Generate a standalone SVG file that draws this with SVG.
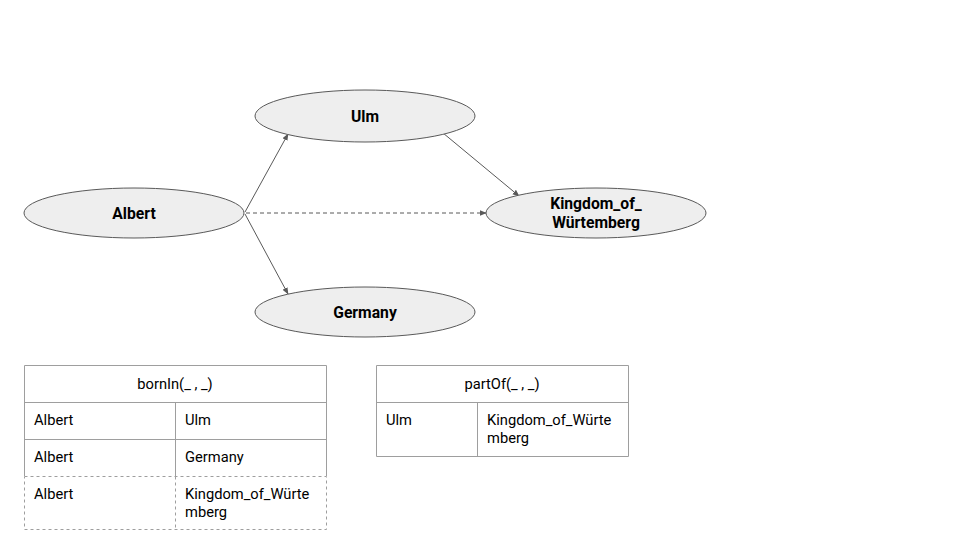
<svg xmlns="http://www.w3.org/2000/svg" width="960" height="540" viewBox="0 0 960 540">
<style>
.node ellipse{fill:#eeeeee;stroke:#595959;stroke-width:1}
.node text{font-family:Roboto,"Liberation Sans",sans-serif;font-weight:bold;font-size:15.7px;fill:#000;text-anchor:middle}
.edge{stroke:#595959;stroke-width:1;fill:none}
.dash{stroke-dasharray:4,3}
.tb{stroke:#9e9e9e;stroke-width:1;fill:none}
.tbd{stroke:#9e9e9e;stroke-width:1;fill:none;stroke-dasharray:3,3}
.tt{font-family:Roboto,"Liberation Sans",sans-serif;font-size:14.7px;fill:#000}
</style>
<defs>
<marker id="arr" viewBox="0 0 10 10" refX="9" refY="5" markerWidth="7" markerHeight="7" orient="auto" markerUnits="userSpaceOnUse">
<path d="M0,1 L10,5 L0,9 z" fill="#595959"/>
</marker>
</defs>
<rect width="960" height="540" fill="#ffffff"/>
<g id="connectors">
<line class="edge" x1="245" y1="212" x2="288" y2="134" marker-end="url(#arr)"/>
<line class="edge" x1="245" y1="214" x2="288" y2="294" marker-end="url(#arr)"/>
<line class="edge" x1="443" y1="133" x2="519" y2="196" marker-end="url(#arr)"/>
<line class="edge dash" x1="246" y1="213" x2="486" y2="213" marker-end="url(#arr)"/>
</g>
<g id="node-ulm" class="node">
<ellipse cx="365" cy="116" rx="110" ry="26"/>
<text x="365" y="121.5">Ulm</text>
</g>
<g id="node-albert" class="node">
<ellipse cx="134" cy="213" rx="110" ry="25"/>
<text x="134" y="218.5">Albert</text>
</g>
<g id="node-kingdom" class="node">
<ellipse cx="596" cy="213" rx="110" ry="25"/>
<text x="596" y="209">Kingdom_of_</text>
<text x="596" y="228">Würtemberg</text>
</g>
<g id="node-germany" class="node">
<ellipse cx="365" cy="312" rx="110" ry="25"/>
<text x="365" y="317.5">Germany</text>
</g>
<g id="table-bornin">
<path class="tb" d="M24.5,476 V365.5 H326.5 V476 M24.5,402.5 H326.5 M24.5,439.5 H326.5 M175.5,402.5 V476"/>
<path class="tbd" d="M24.5,476.5 H326.5 V529.5 H24.5 Z M175.5,476.5 V529.5"/>
<text class="tt" x="175" y="389" text-anchor="middle">bornIn(_ , _)</text>
<text class="tt" x="34" y="425">Albert</text>
<text class="tt" x="185" y="425">Ulm</text>
<text class="tt" x="34" y="462">Albert</text>
<text class="tt" x="185" y="462">Germany</text>
<text class="tt" x="34" y="499">Albert</text>
<text class="tt" x="185" y="499">Kingdom_of_Würte</text>
<text class="tt" x="185" y="517">mberg</text>
</g>
<g id="table-partof">
<path class="tb" d="M376.5,365.5 H628.5 V456.5 H376.5 Z M376.5,402.5 H628.5 M477.5,402.5 V456.5"/>
<text class="tt" x="502" y="389" text-anchor="middle">partOf(_ , _)</text>
<text class="tt" x="386" y="425">Ulm</text>
<text class="tt" x="487" y="425">Kingdom_of_Würte</text>
<text class="tt" x="487" y="443">mberg</text>
</g>
</svg>
